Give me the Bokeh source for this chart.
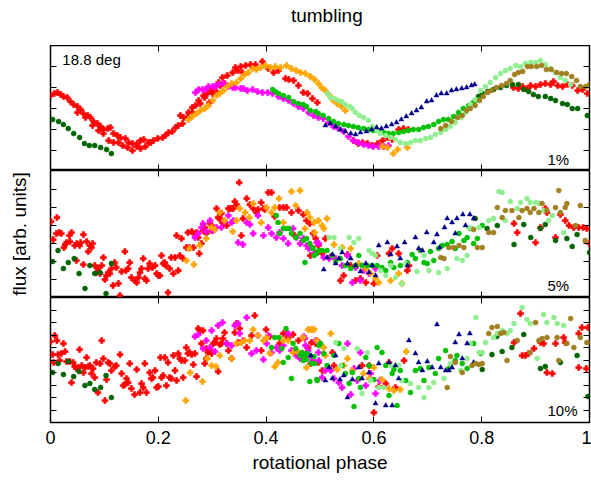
from bokeh.plotting import figure
from bokeh.layouts import column
from bokeh.models import Range1d, LinearAxis, FixedTicker, Label
from bokeh.embed import file_html
from bokeh.resources import INLINE

FONT = "Liberation Sans"

# ---------------- data: (rotational phase, flux [arb. units]) ----------------
# top panel (1%)
top_red = [(0.000,76),(0.007,78),(0.013,79),(0.019,77),(0.024,75),(0.031,74),(0.037,70),(0.043,67),(0.050,65),(0.056,62),(0.061,58),(0.069,56),(0.074,54),(0.080,50),(0.087,48),(0.093,45),(0.098,42),(0.106,43),(0.111,44),(0.117,38),(0.124,36),(0.130,34),(0.139,33),(0.145,29),(0.152,28),(0.161,28),(0.167,31),(0.173,32),(0.182,29),(0.191,31),(0.199,33),(0.208,34),(0.213,36),(0.219,39),(0.226,40),(0.232,44),(0.237,46),(0.245,48),(0.254,54),(0.263,59),(0.269,66),(0.275,71),(0.284,76),(0.291,78),(0.297,81),(0.302,84),(0.312,89),(0.319,94),(0.328,96),(0.338,99),(0.343,104),(0.353,105),(0.362,106),(0.371,107),(0.380,107),(0.393,110),(0.404,103),(0.414,99),(0.423,101),(0.436,93),(0.442,92),(0.451,91),(0.460,86),(0.469,79),(0.477,78),(0.486,73),(0.495,69),
           (0.050,59),(0.065,54),(0.078,46),(0.089,41),(0.098,38),(0.108,31),(0.117,29),(0.126,29),(0.134,26),(0.143,24),(0.152,21),(0.160,25),(0.167,23),(0.176,25),(0.186,29),(0.241,56),(0.247,54),(0.256,59),(0.263,64),(0.278,68),(0.286,74),(0.295,69),(0.301,78),(0.308,80),(0.315,86),(0.323,88),(0.347,101),(0.356,99),
           (0.562,31),(0.571,28),(0.579,29),(0.588,28),(0.597,26),(0.607,28),(0.616,31),(0.625,34),(0.634,32),(0.646,42),(0.655,43),(0.664,42),
           (0.859,84),(0.868,83),(0.876,85),(0.885,83),(0.891,86),(0.900,85),(0.909,87),(0.918,88),(0.928,87),(0.933,90),(0.941,86),(0.950,85),(0.959,87),(0.968,86),(0.978,81),(0.987,82),(0.996,78)]
top_dgreen = [(0.004,52),(0.015,50),(0.024,47),(0.033,43),(0.043,38),(0.054,34),(0.063,28),(0.072,26),(0.082,26),(0.093,24),(0.104,22),(0.113,18),(0.785,69),(0.794,75),(0.801,78),(0.811,80),(0.822,82),(0.835,84),(0.846,86),(0.857,87),(0.868,87),(0.878,82),(0.887,80),(0.896,77),(0.905,75),(0.918,75),(0.928,73),(0.937,71),(0.950,68),(0.959,67),(0.968,63),(0.978,63),(0.996,56)]
top_magenta = [(0.269,79),(0.275,82),(0.282,82),(0.288,82),(0.293,85),(0.301,85),(0.306,85),(0.312,87),(0.321,88),(0.330,85),(0.338,84),(0.343,84),(0.353,83),(0.358,83),(0.365,81),(0.375,82),(0.384,80),(0.393,79),(0.403,79),(0.412,78),(0.423,75),(0.432,73),(0.442,71),(0.451,68),(0.460,65),(0.469,63),(0.479,59),(0.488,56),(0.497,54),(0.506,53),(0.516,49),(0.525,45),(0.534,43),(0.544,40),(0.553,35),(0.562,31),(0.571,29),(0.581,27),(0.590,26),(0.599,25),(0.609,25),(0.618,25),(0.627,26)]
top_orange = [(0.256,52),(0.263,55),(0.271,58),(0.278,61),(0.286,63),(0.293,66),(0.301,71),(0.308,76),(0.314,78),(0.321,81),(0.328,85),(0.336,88),(0.345,89),(0.353,93),(0.360,97),(0.367,99),(0.375,103),(0.382,102),(0.390,104),(0.399,106),(0.408,104),(0.417,105),(0.427,104),(0.438,106),(0.447,103),(0.456,101),(0.464,99),(0.473,98),(0.482,95),(0.490,92),(0.497,88),(0.503,84),(0.510,81),(0.518,76),(0.525,71),(0.532,68),(0.540,65),(0.547,61),(0.616,25),(0.625,24),(0.636,18),(0.644,22),(0.662,24)]
top_green = [(0.412,82),(0.417,80),(0.423,78),(0.432,76),(0.442,74),(0.451,70),(0.460,68),(0.469,67),(0.475,65),(0.482,61),(0.492,60),(0.497,58),(0.506,56),(0.516,53),(0.525,50),(0.534,48),(0.544,47),(0.553,46),(0.562,45),(0.571,44),(0.581,43),(0.590,42),(0.599,41),(0.609,41),(0.618,39),(0.627,38),(0.636,38),(0.646,39),(0.655,40),(0.664,41),(0.673,42),(0.683,42),(0.692,44),(0.701,45),(0.711,47),(0.720,50),(0.729,52),(0.738,52),(0.748,55),(0.757,59),(0.766,63),(0.776,66),(0.785,69),(0.794,72)]
top_lgreen = [(0.514,78),(0.519,74),(0.527,73),(0.534,71),(0.540,70),(0.547,67),(0.555,65),(0.560,63),(0.566,59),(0.573,56),(0.581,54),(0.590,51),(0.597,45),(0.605,41),(0.612,38),(0.622,36),(0.631,34),(0.640,32),(0.649,29),(0.659,28),(0.668,29),(0.677,31),(0.686,31),(0.696,33),(0.705,34),(0.714,37),(0.724,39),(0.733,42),(0.742,45),(0.751,49),(0.761,54),(0.770,59),(0.779,67),(0.788,72),(0.798,81),(0.807,85),(0.816,89),(0.826,94),(0.835,98),(0.844,101),(0.853,103),(0.863,106),(0.872,105),(0.881,108),(0.891,109),(0.900,109),(0.909,111),(0.918,107),(0.928,103),(0.937,99),(0.946,94),(0.955,91),(0.965,87)]
top_navy = [(0.510,46),(0.519,48),(0.529,45),(0.538,42),(0.547,40),(0.557,38),(0.566,37),(0.575,39),(0.586,40),(0.596,42),(0.605,44),(0.614,43),(0.623,45),(0.633,47),(0.642,49),(0.651,52),(0.660,55),(0.670,58),(0.679,61),(0.688,64),(0.698,70),(0.707,71),(0.716,76),(0.725,78),(0.735,78),(0.744,81),(0.753,82),(0.763,83),(0.772,84),(0.781,86),(0.787,87)]
top_brown = [(0.724,43),(0.733,46),(0.744,50),(0.755,54),(0.764,56),(0.772,61),(0.779,63),(0.788,66),(0.796,71),(0.803,75),(0.811,79),(0.818,81),(0.827,84),(0.837,86),(0.846,88),(0.853,91),(0.861,97),(0.868,99),(0.876,100),(0.885,105),(0.892,105),(0.902,105),(0.911,106),(0.920,102),(0.929,102),(0.939,99),(0.948,98),(0.957,98),(0.967,95),(0.976,91),(0.983,85),(0.993,85),(1.000,87)]

# middle panel (5%)
mid_red = [(0.001,76),(0.012,80),(0.005,58),(0.011,64),(0.016,65),(0.020,64),(0.025,50),(0.027,53),(0.030,55),(0.036,56),(0.035,62),(0.039,65),(0.045,52),(0.048,37),(0.049,54),(0.054,52),(0.056,55),(0.061,63),(0.061,33),(0.067,56),(0.070,46),(0.073,52),(0.076,50),(0.078,54),(0.082,32),(0.085,25),(0.088,29),(0.092,24),(0.095,32),(0.098,40),(0.101,18),(0.104,22),(0.107,25),(0.110,24),(0.113,29),(0.116,12),(0.119,35),(0.122,30),(0.126,14),(0.129,2),(0.132,26),(0.138,46),(0.140,27),(0.144,29),(0.147,35),(0.150,20),(0.156,17),(0.160,15),(0.163,20),(0.166,25),(0.169,29),(0.172,39),(0.175,19),(0.178,17),(0.181,29),(0.184,34),(0.189,30),(0.194,32),(0.197,24),(0.200,22),(0.203,22),(0.206,42),(0.209,34),(0.212,35),(0.214,32),(0.218,5),(0.221,29),(0.224,40),(0.228,24),(0.231,40),(0.234,62),(0.237,27),(0.240,42),(0.243,59),(0.246,39),(0.252,50),(0.255,65),(0.258,50),(0.262,66),(0.265,50),(0.266,64),(0.271,65),(0.274,60),(0.276,44),(0.280,54),(0.283,67),(0.286,70),(0.289,64),(0.296,74),(0.299,67),(0.302,70),(0.308,89),(0.311,80),(0.314,79),(0.317,84),(0.319,75),(0.323,74),(0.327,72),(0.330,89),(0.333,89),(0.336,89),(0.339,89),(0.342,96),(0.345,93),(0.350,115),(0.354,62),(0.357,79),(0.364,99),(0.370,93),(0.376,89),(0.382,85),(0.385,88),(0.391,95),(0.395,89),(0.398,88),(0.404,105),(0.410,105),(0.416,81),(0.425,90),(0.432,90),(0.438,90),(0.447,85),(0.453,62),(0.460,87),(0.469,83),(0.475,77),(0.481,74),(0.487,64),(0.492,59),(0.497,52),
           (0.482,42),(0.492,44),(0.504,44),(0.510,59),(0.520,41),(0.538,17),(0.544,22),(0.551,43),(0.557,32),(0.566,17),(0.575,19),(0.585,15),(0.600,14),(0.606,42),(0.628,44),(0.634,49),(0.646,44),(0.662,27),(0.665,32),
           (0.860,74),(0.866,65),(0.900,55),(0.909,70),(0.918,89),(0.921,85),(0.937,60),(0.946,83),(0.955,77),(0.962,72),(0.971,70),(0.980,70),(0.988,70),(0.995,69),(1.000,54)]
mid_dgreen = [(0.004,36),(0.014,47),(0.024,29),(0.033,35),(0.044,39),(0.053,24),(0.064,9),(0.073,32),(0.082,24),(0.092,25),(0.103,4),(0.113,34),(0.788,79),(0.810,69),(0.829,72),(0.860,53),(0.878,73),(0.891,60),(0.909,69),(0.918,73),(0.937,57),(0.958,59),(0.968,51),(0.977,63),(1.000,45)]
mid_magenta = [(0.268,60),(0.274,64),(0.280,70),(0.283,74),(0.289,66),(0.296,77),(0.302,67),(0.308,70),(0.317,70),(0.323,76),(0.330,82),(0.336,75),(0.339,77),(0.348,55),(0.357,53),(0.364,75),(0.370,73),(0.376,64),(0.385,82),(0.395,62),(0.404,70),(0.410,64),(0.419,60),(0.425,65),(0.432,59),(0.441,54),(0.450,69),(0.456,60),(0.463,54),(0.469,59),(0.475,52),(0.484,50),(0.494,55),(0.479,49),(0.489,44),(0.498,54),(0.507,40),(0.517,39),(0.529,39),(0.541,32),(0.551,42),(0.560,15),(0.566,30),(0.575,17),(0.581,27),(0.591,24),(0.603,29)]
mid_orange = [(0.252,37),(0.258,49),(0.266,33),(0.277,52),(0.289,59),(0.299,70),(0.305,68),(0.314,85),(0.323,77),(0.338,66),(0.345,77),(0.351,89),(0.361,85),(0.369,80),(0.376,94),(0.391,75),(0.401,90),(0.410,85),(0.416,90),(0.424,99),(0.432,75),(0.447,106),(0.455,92),(0.463,107),(0.472,69),(0.481,80),(0.490,65),(0.497,77),(0.476,85),(0.489,75),(0.504,72),(0.513,79),(0.507,69),(0.526,53),(0.541,50),(0.557,49),(0.572,34),(0.585,29),(0.594,24),(0.603,19),(0.609,15),(0.631,17),(0.646,24),(0.652,14)]
mid_green = [(0.419,82),(0.422,75),(0.425,64),(0.432,69),(0.438,69),(0.443,69),(0.447,64),(0.455,60),(0.463,64),(0.469,57),(0.472,35),(0.475,59),(0.481,54),(0.487,49),(0.494,44),(0.498,47),(0.486,50),(0.489,42),(0.504,47),(0.513,47),(0.523,42),(0.529,36),(0.538,39),(0.547,32),(0.557,29),(0.566,32),(0.572,42),(0.578,32),(0.588,32),(0.597,32),(0.606,32),(0.615,30),(0.622,27),(0.631,35),(0.637,30),(0.649,32),(0.662,35),(0.671,43),(0.677,39),(0.686,47),(0.693,35),(0.699,34),(0.705,46),(0.711,37),(0.720,49),(0.727,52),(0.736,53),(0.745,56),(0.751,49),(0.758,64),(0.767,57),(0.773,60),(0.779,69),(0.785,54),(0.792,59),(0.801,72)]
mid_lgreen = [(0.517,60),(0.526,60),(0.538,49),(0.554,60),(0.563,55),(0.572,59),(0.591,47),(0.597,44),(0.603,42),(0.612,27),(0.622,22),(0.631,32),(0.640,20),(0.652,14),(0.659,34),(0.680,26),(0.693,42),(0.702,27),(0.720,25),(0.736,29),(0.754,39),(0.764,37),(0.773,42),(0.776,70),(0.782,69),(0.795,70),(0.813,77),(0.822,79),(0.832,106),(0.838,105),(0.844,77),(0.853,96),(0.866,89),(0.872,95),(0.884,99),(0.890,95),(0.900,95),(0.906,94),(0.915,87),(0.924,77),(0.931,82),(0.952,65)]
mid_navy = [(0.507,28),(0.513,40),(0.523,43),(0.529,34),(0.535,39),(0.541,45),(0.551,34),(0.557,39),(0.566,32),(0.575,26),(0.585,34),(0.591,25),(0.597,32),(0.603,22),(0.609,52),(0.625,55),(0.631,43),(0.643,51),(0.649,39),(0.657,55),(0.662,32),(0.677,60),(0.683,49),(0.690,47),(0.698,65),(0.711,55),(0.717,63),(0.722,50),(0.731,70),(0.736,79),(0.745,75),(0.751,64),(0.754,79),(0.765,83),(0.770,72),(0.778,83),(0.785,79)]
mid_brown = [(0.724,40),(0.730,39),(0.739,50),(0.748,50),(0.758,52),(0.767,50),(0.785,68),(0.792,50),(0.801,50),(0.813,65),(0.822,65),(0.829,90),(0.838,80),(0.844,87),(0.856,87),(0.869,80),(0.875,87),(0.884,89),(0.890,85),(0.897,89),(0.906,85),(0.912,94),(0.921,87),(0.937,90),(0.943,107),(0.946,85),(0.955,90),(0.958,94),(0.974,72),(0.983,92),(0.992,57)]

# bottom panel (10%)
bot_red = [(0.000,81),(0.004,68),(0.006,60),(0.008,87),(0.012,82),(0.014,68),(0.017,62),(0.020,69),(0.024,79),(0.027,71),(0.030,61),(0.036,61),(0.039,40),(0.042,60),(0.045,56),(0.048,54),(0.051,55),(0.054,73),(0.058,57),(0.061,50),(0.064,55),(0.067,65),(0.070,56),(0.073,57),(0.076,49),(0.079,54),(0.082,45),(0.085,60),(0.088,30),(0.092,59),(0.095,82),(0.098,64),(0.101,22),(0.104,43),(0.107,60),(0.110,59),(0.113,52),(0.119,56),(0.122,57),(0.129,68),(0.132,49),(0.135,37),(0.138,38),(0.141,44),(0.144,40),(0.147,59),(0.150,34),(0.156,28),(0.160,53),(0.166,30),(0.169,39),(0.172,35),(0.175,59),(0.178,30),(0.184,50),(0.187,44),(0.190,45),(0.194,52),(0.197,35),(0.200,36),(0.204,65),(0.206,45),(0.209,47),(0.212,65),(0.215,37),(0.218,60),(0.221,45),(0.224,44),(0.228,67),(0.231,52),(0.234,42),(0.237,69),(0.240,64),(0.243,62),(0.246,45),(0.249,62),(0.252,75),(0.255,69),(0.258,70),(0.262,68),(0.265,58),(0.268,69),(0.271,46),(0.274,94),(0.277,92),(0.280,79),(0.283,92),(0.286,59),(0.289,74),(0.289,64),(0.292,70),(0.296,72),(0.299,69),(0.302,79),(0.305,80),(0.308,84),(0.311,51),(0.314,78),(0.317,79),(0.320,84),(0.323,90),(0.327,79),(0.330,72),(0.336,64),(0.342,90),(0.345,99),(0.348,80),(0.351,94),(0.364,75),(0.373,87),(0.379,107),(0.391,72),(0.400,93),(0.407,86),(0.425,79),(0.432,89),(0.438,89),(0.441,85),(0.450,88),(0.453,70),(0.460,82),(0.469,67),(0.478,75),(0.484,80),(0.494,82),(0.497,60),
           (0.483,59),(0.492,79),(0.498,80),(0.504,52),(0.523,70),(0.526,57),(0.578,57),(0.591,57),(0.600,10),(0.609,36),(0.622,39),(0.628,60),(0.640,35),(0.656,62),
           (0.860,80),(0.872,109),(0.875,67),(0.881,67),(0.887,69),(0.897,74),(0.909,80),(0.915,79),(0.921,50),(0.931,49),(0.937,79),(0.952,85),(0.955,80),(0.980,89),(0.986,95),(0.980,55),(0.994,54),(0.997,95)]
bot_dgreen = [(0.004,50),(0.014,59),(0.024,48),(0.033,61),(0.043,46),(0.053,51),(0.064,37),(0.073,39),(0.082,33),(0.093,35),(0.103,47),(0.113,25),(0.801,53),(0.819,68),(0.828,86),(0.838,71),(0.856,75),(0.878,88),(0.909,54),(0.918,56),(0.946,60),(0.977,67),(0.997,26)]
bot_magenta = [(0.268,86),(0.274,88),(0.283,74),(0.289,82),(0.296,75),(0.299,92),(0.305,71),(0.311,97),(0.319,100),(0.327,79),(0.336,77),(0.342,97),(0.348,99),(0.351,89),(0.357,82),(0.364,105),(0.373,69),(0.382,72),(0.385,87),(0.395,63),(0.401,79),(0.404,87),(0.410,70),(0.419,75),(0.425,72),(0.432,77),(0.441,89),(0.447,72),(0.456,67),(0.463,64),(0.472,84),(0.478,72),(0.487,62),(0.497,70),
               (0.470,86),(0.473,77),(0.483,66),(0.492,82),(0.498,62),(0.504,45),(0.510,52),(0.520,52),(0.526,44),(0.535,40),(0.541,35),(0.551,79),(0.557,28),(0.563,54),(0.569,42),(0.575,70),(0.585,37),(0.594,49),(0.603,29),(0.611,42)]
bot_orange = [(0.251,22),(0.259,50),(0.282,41),(0.291,64),(0.299,57),(0.307,56),(0.314,67),(0.336,64),(0.345,79),(0.354,80),(0.360,82),(0.370,82),(0.376,93),(0.385,87),(0.395,82),(0.401,85),(0.407,69),(0.416,56),(0.422,60),(0.432,82),(0.441,82),(0.450,70),(0.460,70),(0.469,85),(0.475,55),(0.478,93),(0.487,93),(0.494,82),
              (0.483,93),(0.489,93),(0.507,75),(0.520,89),(0.510,67),(0.532,53),(0.544,57),(0.551,64),(0.560,52),(0.581,49),(0.591,44),(0.600,55),(0.615,43),(0.628,34),(0.637,32),(0.649,33),(0.660,71)]
bot_green = [(0.410,75),(0.416,85),(0.424,85),(0.429,74),(0.432,60),(0.437,94),(0.441,65),(0.447,44),(0.450,79),(0.455,74),(0.463,67),(0.466,69),(0.469,62),(0.472,65),(0.475,63),(0.481,41),(0.484,59),(0.490,59),(0.494,43),(0.498,77),
             (0.467,70),(0.476,69),(0.489,66),(0.495,42),(0.501,79),(0.507,69),(0.513,57),(0.526,67),(0.535,79),(0.541,57),(0.547,49),(0.554,39),(0.560,50),(0.563,16),(0.572,44),(0.575,35),(0.585,65),(0.591,57),(0.600,43),(0.606,75),(0.615,70),(0.622,57),(0.628,27),(0.634,49),(0.637,53),(0.643,17),(0.649,52),(0.659,42),(0.668,30),(0.677,52),(0.686,54),(0.693,42),(0.702,55),(0.714,49),(0.720,64),(0.733,72),(0.739,54),(0.751,62),(0.754,67),(0.764,59),(0.773,54),(0.785,79),(0.798,69)]
bot_lgreen = [(0.529,80),(0.538,57),(0.544,74),(0.569,74),(0.578,29),(0.588,70),(0.594,42),(0.609,35),(0.618,35),(0.631,57),(0.646,57),(0.652,42),(0.668,39),(0.683,35),(0.693,25),(0.702,35),(0.711,40),(0.730,44),(0.742,59),(0.761,52),(0.773,64),(0.779,79),(0.789,105),(0.795,70),(0.801,70),(0.807,80),(0.822,85),(0.829,89),(0.838,92),(0.847,89),(0.853,92),(0.860,99),(0.875,115),(0.884,103),(0.890,99),(0.903,64),(0.915,108),(0.921,100),(0.934,105),(0.940,99),(0.952,97)]
bot_navy = [(0.483,67),(0.510,42),(0.517,55),(0.523,44),(0.529,67),(0.537,43),(0.544,47),(0.551,25),(0.560,43),(0.572,55),(0.578,44),(0.591,50),(0.603,19),(0.609,59),(0.622,17),(0.628,60),(0.634,17),(0.640,57),(0.646,44),(0.665,82),(0.677,69),(0.683,60),(0.690,52),(0.699,61),(0.708,55),(0.717,98),(0.724,55),(0.733,52),(0.739,52),(0.745,55),(0.751,80),(0.758,88),(0.764,64),(0.773,79),(0.778,89),(0.785,60)]
bot_brown = [(0.736,35),(0.742,66),(0.751,60),(0.764,50),(0.782,57),(0.789,59),(0.795,58),(0.801,59),(0.813,89),(0.819,95),(0.829,96),(0.835,89),(0.841,90),(0.847,62),(0.866,82),(0.890,70),(0.900,100),(0.906,82),(0.912,84),(0.921,85),(0.940,85),(0.943,62),(0.958,79),(0.965,104),(0.971,75),(0.983,85),(0.995,80),(1.000,80)]

# axes / ticks / labels
x_ticks = [0, 0.2, 0.4, 0.6, 0.8, 1]
x_inner_ticks = [0.2, 0.4, 0.6, 0.8]
x_tick_labels = {0: "0", 0.2: "0.2", 0.4: "0.4", 0.6: "0.6", 0.8: "0.8", 1: "1"}
top_range, top_ticks = (1, 126), [21, 42, 63, 84, 105]
mid_range, mid_ticks = (0, 127), [18, 36, 54, 72, 90, 108]
bot_range, bot_ticks = (0, 125), [12.5, 25, 37.5, 50, 62.5, 75, 87.5, 100, 112.5]
panel_labels = ["1%", "5%", "10%"]
angle_label = "18.8 deg"
title_text = "tumbling"

# series styles: (colour, marker, size)
STY = {
    "red": ("#ff0000", "plus", 6),
    "dgreen": ("#006400", "circle", 5),
    "magenta": ("#ff00ff", "plus", 6),
    "orange": ("#ffa500", "plus", 6),
    "green": ("#00c000", "circle", 5),
    "lgreen": ("#90ee90", "circle", 5),
    "navy": ("#00008b", "triangle", 5),
    "brown": ("#a08020", "circle", 5),
}


def mk_axis(ticks, show_labels=False):
    ax = LinearAxis(ticker=FixedTicker(ticks=ticks), major_tick_in=6, major_tick_out=0,
                    minor_tick_in=0, minor_tick_out=0, axis_line_color=None,
                    major_tick_line_color="black", major_label_standoff=0,
                    major_label_text_font_size="0px", major_label_text_color=None)
    if show_labels:
        ax.major_label_text_font_size = "18px"
        ax.major_label_text_font = FONT
        ax.major_label_text_color = "black"
        ax.major_label_standoff = 8
        ax.major_label_overrides = x_tick_labels
    return ax


def make_panel(height, yr, yticks, border_bottom, bottom_panel=False, ylabel=None):
    p = figure(width=591, height=height, x_range=Range1d(0, 1), y_range=Range1d(*yr),
               output_backend="svg", toolbar_location=None,
               min_border_left=50, min_border_right=2, min_border_top=0,
               min_border_bottom=border_bottom, x_axis_location=None, y_axis_location=None)
    p.xgrid.visible = False
    p.ygrid.visible = False
    p.outline_line_color = "black"
    p.outline_line_width = 1.5
    p.background_fill_color = "white"
    p.border_fill_color = "white"
    left = mk_axis(yticks)
    if ylabel:
        left.axis_label = ylabel
        left.axis_label_text_font = FONT
        left.axis_label_text_font_size = "19px"
        left.axis_label_text_font_style = "normal"
        left.axis_label_text_color = "black"
        left.axis_label_standoff = 21
    p.add_layout(left, "left")
    p.add_layout(mk_axis(yticks), "right")
    p.add_layout(mk_axis(x_inner_ticks), "above")
    bottom = mk_axis(x_ticks if bottom_panel else x_inner_ticks, show_labels=bottom_panel)
    if bottom_panel:
        bottom.axis_label = "rotational phase"
        bottom.axis_label_text_font = FONT
        bottom.axis_label_text_font_size = "19px"
        bottom.axis_label_text_font_style = "normal"
        bottom.axis_label_text_color = "black"
        bottom.axis_label_standoff = 5
    p.add_layout(bottom, "below")
    return p


def draw(p, name, pts):
    col, mk, sz = STY[name]
    xs = [a for a, b in pts]
    ys = [b for a, b in pts]
    p.scatter(xs, ys, marker=mk, size=sz, fill_color=col, line_color=col, line_width=0.5)


# title strip (a bare figure holding only the title text)
pt = figure(width=591, height=45, x_range=Range1d(0, 591), y_range=Range1d(0, 45),
            output_backend="svg", toolbar_location=None, min_border=0,
            x_axis_location=None, y_axis_location=None)
pt.xgrid.visible = False
pt.ygrid.visible = False
pt.outline_line_color = None
pt.background_fill_color = "white"
pt.border_fill_color = "white"
pt.add_layout(Label(x=303, y=30, text=title_text, text_baseline="middle", text_align="center",
                    text_font=FONT, text_font_size="19px", text_color="black"))

p1 = make_panel(125, top_range, top_ticks, 0)
p2 = make_panel(127, mid_range, mid_ticks, 0, ylabel="flux [arb. units]")
p3 = make_panel(188, bot_range, bot_ticks, 63, bottom_panel=True)

panels = [
    (p1, dict(red=top_red, dgreen=top_dgreen, magenta=top_magenta, orange=top_orange, green=top_green,
              lgreen=top_lgreen, navy=top_navy, brown=top_brown)),
    (p2, dict(red=mid_red, dgreen=mid_dgreen, magenta=mid_magenta, orange=mid_orange, green=mid_green,
              lgreen=mid_lgreen, navy=mid_navy, brown=mid_brown)),
    (p3, dict(red=bot_red, dgreen=bot_dgreen, magenta=bot_magenta, orange=bot_orange, green=bot_green,
              lgreen=bot_lgreen, navy=bot_navy, brown=bot_brown)),
]
order = ["red", "dgreen", "magenta", "orange", "green", "lgreen", "navy", "brown"]
for p, series in panels:
    for name in order:
        draw(p, name, series[name])

for p, txt, yv in zip([p1, p2, p3], panel_labels, [12.5, 12, 12]):
    p.add_layout(Label(x=0.922, y=yv, text=txt, text_baseline="middle", text_align="left",
                       text_font=FONT, text_font_size="15px", text_color="black"))
p1.add_layout(Label(x=0.022, y=112.5, text=angle_label, text_baseline="middle", text_align="left",
                    text_font=FONT, text_font_size="15px", text_color="black"))

layout = column(pt, p1, p2, p3, spacing=0)
open("out.html", "w").write(file_html(layout, INLINE))
